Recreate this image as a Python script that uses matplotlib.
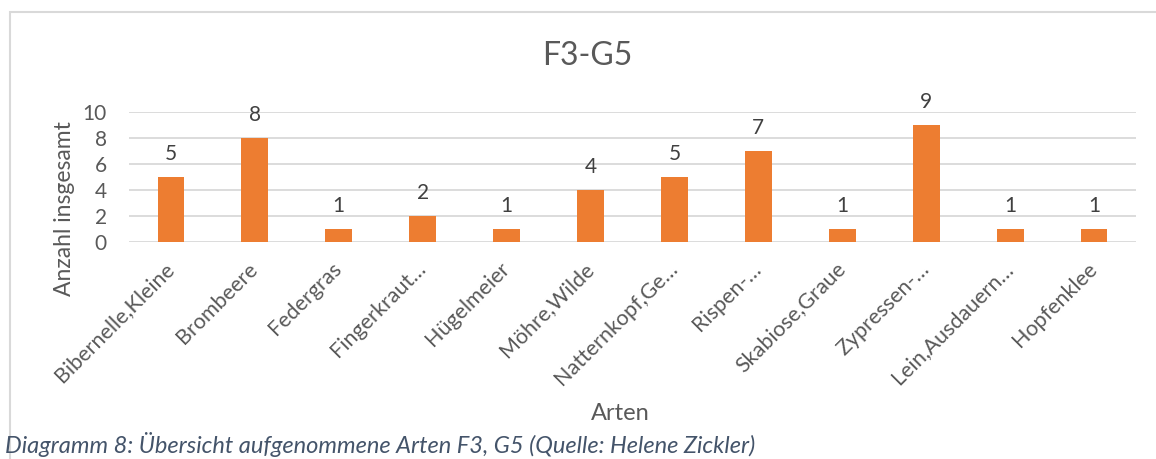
import matplotlib.pyplot as plt
from matplotlib.patches import Rectangle

arten = ["Bibernelle,Kleine", "Brombeere", "Federgras", "Fingerkraut…",
         "Hügelmeier", "Möhre,Wilde", "Natternkopf,Ge…", "Rispen-…",
         "Skabiose,Graue", "Zypressen-…", "Lein,Ausdauern…", "Hopfenklee"]
anzahl = [5, 8, 1, 2, 1, 4, 5, 7, 1, 9, 1, 1]
y_ticks = [0, 2, 4, 6, 8, 10]

TEXT = "#595959"
BAR = "#ED7D31"
GRID = "#D9D9D9"

plt.rcParams["font.family"] = ["Lato", "DejaVu Sans"]

fig = plt.figure(figsize=(11.56, 4.59), dpi=100)
W, H = 1156, 459

# Rahmen um das Diagramm
fig.patches.append(Rectangle((10 / W, -0.1), 1.2, (H - 12) / H + 0.1,
                             transform=fig.transFigure, fill=False,
                             edgecolor=GRID, linewidth=1.5))

ax = fig.add_axes([129 / W, (H - 242) / H, 1007 / W, 130 / H])
x = range(len(arten))
bars = ax.bar(x, anzahl, width=0.32, color=BAR, zorder=3)
for b, v in zip(bars, anzahl):
    ax.annotate(str(v), (b.get_x() + b.get_width() / 2, v),
                xytext=(0, 12), textcoords="offset points", ha="center",
                va="baseline", fontsize=15, color="#404040",
                annotation_clip=False)

ax.set_xlim(-0.5, len(arten) - 0.5)
ax.set_ylim(0, 10)
ax.set_yticks(y_ticks)
ax.yaxis.grid(True, color=GRID, linewidth=1.3, zorder=0)
for s in ax.spines.values():
    s.set_visible(False)
ax.tick_params(axis="both", length=0, colors=TEXT)
ax.tick_params(axis="y", labelsize=15, pad=16)
ax.set_xticks(list(x))
ax.set_xticklabels(arten, rotation=45, ha="right", va="center",
                   rotation_mode="anchor", fontsize=15.5, color=TEXT)
ax.tick_params(axis="x", pad=17)

ax.set_ylabel("Anzahl insgesamt", fontsize=16.5, color=TEXT)
ax.yaxis.set_label_coords(-0.054, 0.26)

fig.text(587 / W, 1 - 56 / H, "F3-G5", ha="center", va="center",
         fontsize=23, color=TEXT)
fig.text(620 / W, 1 - 413 / H, "Arten", ha="center", va="center",
         fontsize=17, color=TEXT)
fig.text(5 / W, 2 / H,
         "Diagramm 8: Übersicht aufgenommene Arten F3, G5 (Quelle: Helene Zickler)",
         ha="left", va="bottom", fontsize=17, style="italic", color="#44546A")

fig.savefig("out.png", dpi=100)
